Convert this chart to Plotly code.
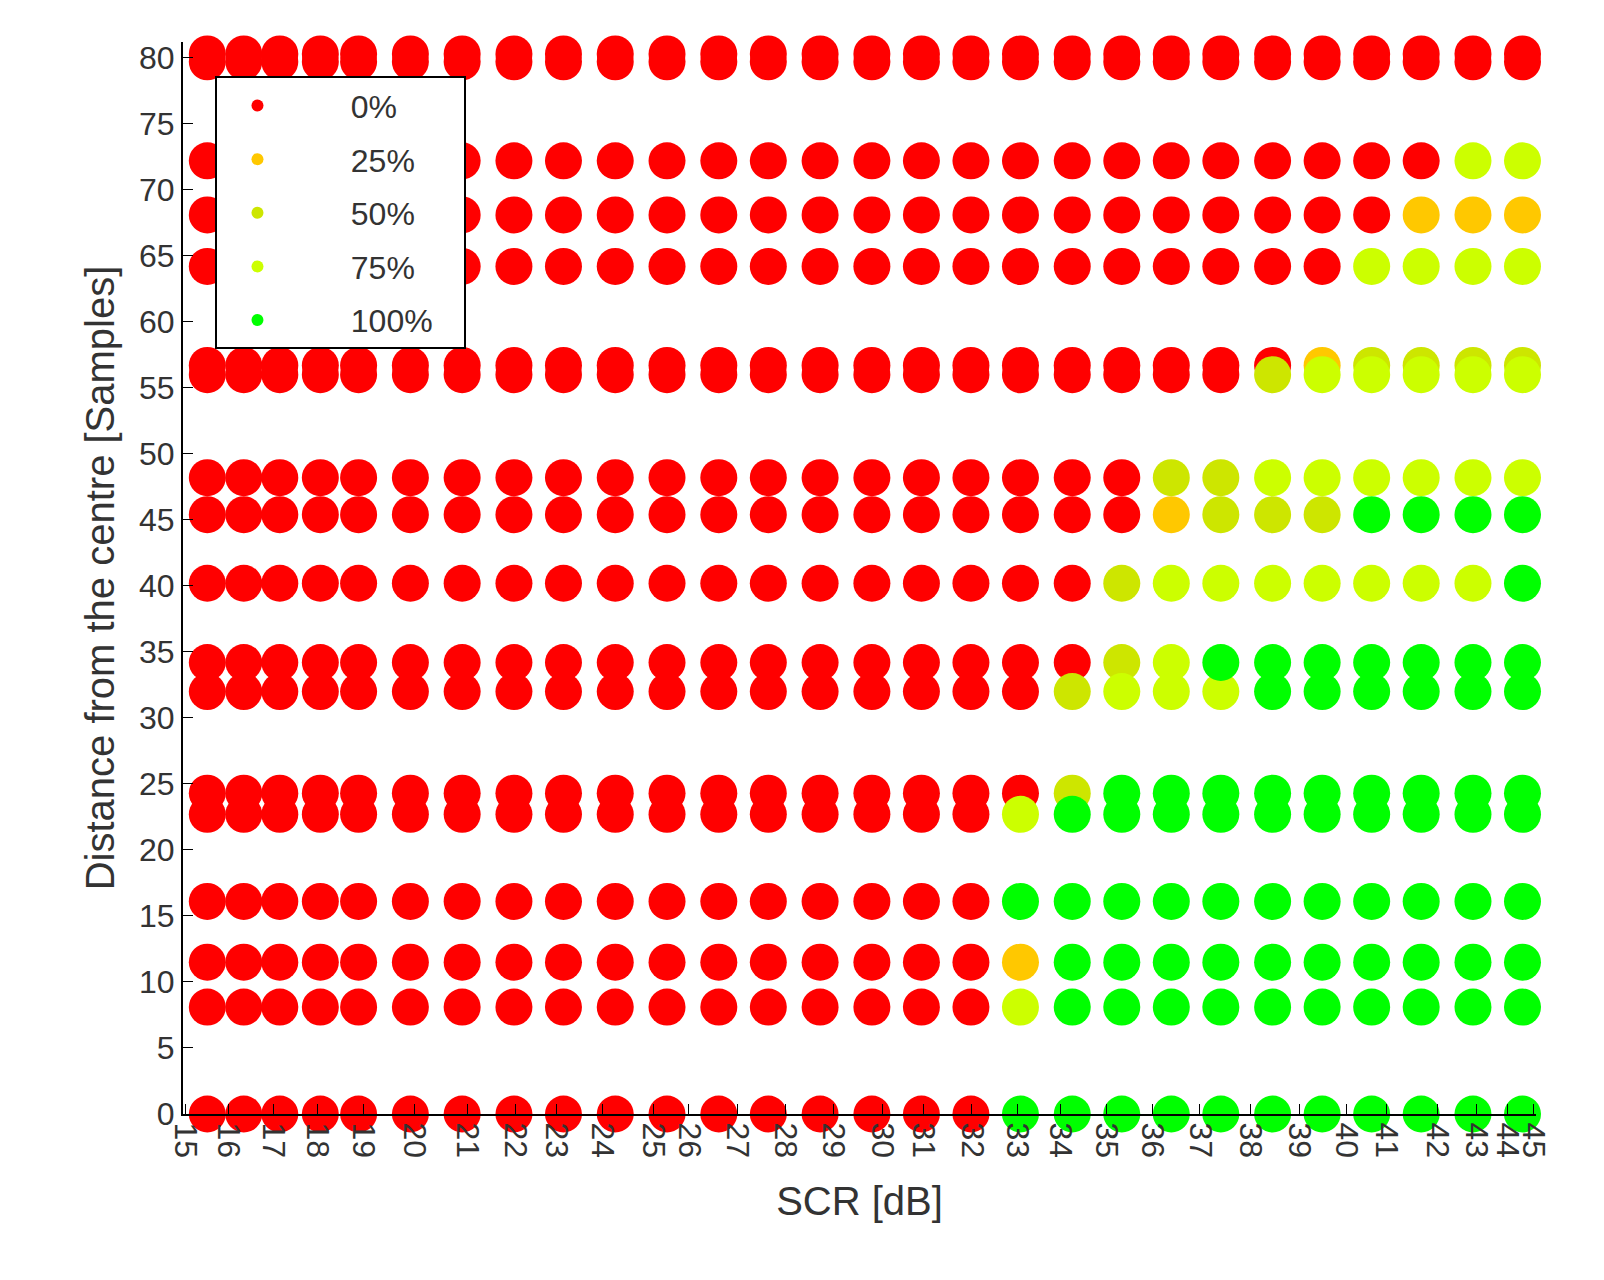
import plotly.graph_objects as go

# SCR value of each measured column (dB)
scr = [15.54, 16.35, 17.15, 18.05, 18.9, 20.05, 21.2, 22.35, 23.45, 24.6, 25.75, 26.9,
       28.0, 29.15, 30.3, 31.4, 32.5, 33.6, 34.75, 35.85, 36.95, 38.05, 39.2, 40.3,
       41.4, 42.5, 43.65, 44.75]

# distance rows (samples)
distances = [80.3, 79.7, 72.2, 68.1, 64.2, 56.7, 56.0, 48.2, 45.4, 40.2, 34.2, 32.0,
             24.3, 22.7, 16.1, 11.5, 8.1, 0.0]

# detection level per row/column: 0=0%, 1=25%, 2=50%, 3=75%, 4=100%
R = [0] * 17
levels = [
    R + [0] * 11,
    R + [0] * 11,
    R + [0] * 9 + [3, 3],
    R + [0] * 8 + [1, 1, 1],
    R + [0] * 7 + [3, 3, 3, 3],
    R + [0] * 5 + [0, 1, 2, 2, 2, 2],
    R + [0] * 5 + [2, 3, 3, 3, 3, 3],
    R + [0, 0, 0, 2, 2, 3, 3, 3, 3, 3, 3],
    R + [0, 0, 0, 1, 2, 2, 2, 4, 4, 4, 4],
    R + [0, 0, 2, 3, 3, 3, 3, 3, 3, 3, 4],
    R + [0, 0, 2, 3, 4, 4, 4, 4, 4, 4, 4],
    R + [0, 2, 3, 3, 3, 4, 4, 4, 4, 4, 4],
    R + [0, 2, 4, 4, 4, 4, 4, 4, 4, 4, 4],
    R + [3, 4, 4, 4, 4, 4, 4, 4, 4, 4, 4],
    R + [4] * 11,
    R + [1] + [4] * 10,
    R + [3] + [4] * 10,
    R + [4] * 11,
]

level_names = ["0%", "25%", "50%", "75%", "100%"]
level_colors = ["#ff0000", "#ffc800", "#cde600", "#ccff00", "#00ff00"]

# x tick labels and where they sit along the SCR axis
tick_text = [str(v) for v in range(15, 46)]
tick_px = [175, 218, 262, 305, 350, 400, 452, 500, 540, 585, 635, 670, 718, 765, 812,
           860, 900, 948, 993, 1035, 1080, 1125, 1172, 1222, 1270, 1316, 1355, 1405,
           1444, 1474, 1500]
tick_vals = [15 + (p - 173) / 44.23 for p in tick_px]

fig = go.Figure()
for lv, (name, col) in enumerate(zip(level_names, level_colors)):
    xs, ys = [], []
    for d, row in zip(distances, levels):
        for s, v in zip(scr, row):
            if v == lv:
                xs.append(s)
                ys.append(d)
    fig.add_trace(go.Scatter(
        x=xs, y=ys, mode="markers", name="      " + name + "   ", cliponaxis=False,
        legendgroup=name,
        marker=dict(size=37, color=col, line=dict(width=0)),
    ))

font_col = "#333333"
fig.update_layout(
    width=1604, height=1280,
    margin=dict(l=175, r=76, t=34, b=174),
    plot_bgcolor="white", paper_bgcolor="white",
    font=dict(family="Liberation Sans, Arial", size=32, color=font_col),
    legend=dict(
        x=0.024, y=0.968, xanchor="left", yanchor="top",
        bgcolor="white", bordercolor="black", borderwidth=2,
        font=dict(size=32, color=font_col), itemsizing="constant",
        itemwidth=70, tracegroupgap=9,
    ),
    showlegend=True,
)
fig.update_xaxes(
    range=[15, 45.05], tickvals=tick_vals, ticktext=tick_text, tickangle=90,
    showgrid=False, zeroline=False, showline=True, linecolor="black", linewidth=2,
    ticks="inside", ticklen=10, tickcolor="black",
    title=dict(text="SCR [dB]", font=dict(size=40, color=font_col), standoff=30),
)
fig.update_yaxes(
    range=[0, 81.2], tickvals=list(range(0, 81, 5)),
    showgrid=False, zeroline=False, showline=True, linecolor="black", linewidth=2,
    ticks="inside", ticklen=10, tickcolor="black",
    title=dict(text="Distance from the centre [Samples]", font=dict(size=40, color=font_col), standoff=12),
)

fig.write_html("out.html")
